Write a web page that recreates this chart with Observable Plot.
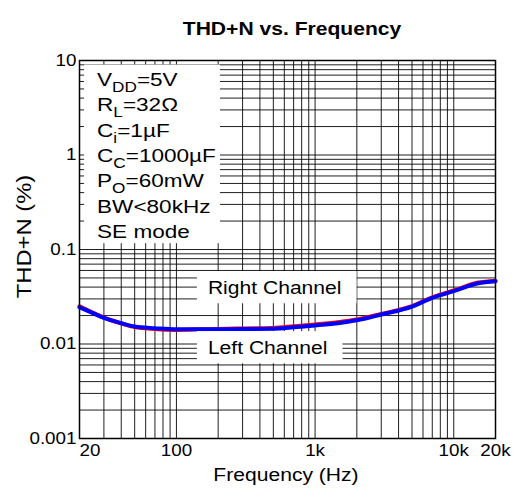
<!DOCTYPE html>
<html><head><meta charset="utf-8">
<script src="https://cdn.jsdelivr.net/npm/d3@7"></script>
<script src="https://cdn.jsdelivr.net/npm/@observablehq/plot@0.6"></script>
<style>
html,body{margin:0;padding:0;background:#fff;}
#chart svg{font-family:"Liberation Sans",Arial,Helvetica,sans-serif;background:#fff;}
</style></head><body><div id="chart"></div>
<script>
// ---- data ----
const freq = [20, 25, 30, 40, 50, 70, 100, 150, 200, 300, 500, 700, 1000, 1500, 2000, 3000, 5000, 7000, 10000, 15000, 20000];
const rightChannel = [0.0250, 0.0214, 0.0190, 0.0165, 0.0151, 0.0144, 0.0141, 0.0143, 0.0144, 0.0146, 0.0148, 0.0154, 0.0161, 0.0171, 0.0182, 0.0208, 0.0252, 0.0312, 0.0368, 0.0447, 0.0465];
const leftChannel  = [0.0245, 0.0212, 0.0189, 0.0166, 0.0153, 0.0147, 0.0143, 0.0143, 0.0143, 0.0144, 0.0145, 0.0150, 0.0157, 0.0167, 0.0178, 0.0205, 0.0249, 0.0308, 0.0362, 0.0440, 0.0462];

const xGrid = [20, 30, 40, 50, 60, 70, 80, 90, 100, 200, 300, 400, 500, 600, 700, 800, 900, 1000, 2000, 3000, 4000, 5000, 6000, 7000, 8000, 9000, 10000, 20000];
const yGrid = [0.001, 0.002, 0.003, 0.004, 0.005, 0.006, 0.007, 0.008, 0.009,
               0.01, 0.02, 0.03, 0.04, 0.05, 0.06, 0.07, 0.08, 0.09,
               0.1, 0.2, 0.3, 0.4, 0.5, 0.6, 0.7, 0.8, 0.9,
               1, 2, 3, 4, 5, 6, 7, 8, 9, 10];
const xTickValues = [20, 100, 1000, 10000, 20000];
const xTickLabels = ["20", "100", "1k", "10k", "20k"];
const yTickValues = [0.001, 0.01, 0.1, 1, 10];
const yTickLabels = ["0.001", "0.01", "0.1", "1", "10"];

const titleText = "THD+N vs. Frequency";
const xLabelText = "Frequency (Hz)";
const yLabelText = "THD+N (%)";
const conditions = ["V_{DD}=5V", "R_{L}=32Ω", "C_{i}=1µF", "C_{C}=1000µF", "P_{O}=60mW", "BW<80kHz", "SE mode"];
const channelNames = ["Right Channel", "Left Channel"];

// ---- build ----
const rows = [];
freq.forEach((f, i) => {
  rows.push({f, v: rightChannel[i], ch: "Right"});
  rows.push({f, v: leftChannel[i], ch: "Left"});
});
const xt = xTickValues.map((v, i) => ({v, label: xTickLabels[i]}));
const yt = yTickValues.map((v, i) => ({v, label: yTickLabels[i]}));

const FS = 16.5, LFS = 18.5, K = 1.14, KY = 1.19;

const chart = Plot.plot({
  width: 518, height: 493,
  marginLeft: 79, marginRight: 23, marginTop: 60, marginBottom: 55,
  x: {type: "log", domain: [20, 20000], axis: null},
  y: {type: "log", domain: [0.001, 10], axis: null},
  style: {fontFamily: '"Liberation Sans",Arial,sans-serif', background: "#fff", color: "#000"},
  marks: [
    Plot.ruleX(xGrid, {x: d => d, stroke: "#000", strokeWidth: 1, strokeOpacity: 0.88}),
    Plot.ruleY(yGrid, {y: d => d, stroke: "#000", strokeWidth: 1, strokeOpacity: 0.88}),
    Plot.line(rows.filter(d => d.ch === "Right"), {x: "f", y: "v", stroke: "#ff0000", strokeWidth: 4, curve: "monotone-x"}),
    Plot.line(rows.filter(d => d.ch === "Left"), {x: "f", y: "v", stroke: "#0000ff", strokeWidth: 4, curve: "monotone-x"}),
    Plot.frame({stroke: "#000", strokeWidth: 1.5}),
    // y tick labels
    Plot.text(yt, {y: "v", text: "label", frameAnchor: "left", dx: -3, textAnchor: "end", fontSize: FS, fill: "#000"}),
    // x tick labels
    Plot.text(xt.filter(d => d.v === 20), {x: "v", text: "label", frameAnchor: "bottom", dy: 17, textAnchor: "start", fontSize: FS, fill: "#000"}),
    Plot.text(xt.filter(d => d.v !== 20), {x: "v", text: "label", frameAnchor: "bottom", dy: 17, textAnchor: "middle", fontSize: FS, fill: "#000"}),
    // axis labels and title
    Plot.text([xLabelText], {text: d => d, frameAnchor: "bottom", dy: 42, dx: -1.5, textAnchor: "middle", fontSize: LFS, fill: "#000"}),
    Plot.text([yLabelText], {text: d => d, frameAnchor: "left", rotate: -90, dx: -55, dy: -13, textAnchor: "middle", fontSize: 20, fill: "#000", className: "ylab"}),
    Plot.text([titleText], {text: d => d, frameAnchor: "top", dy: -38.5, dx: 4.5, textAnchor: "middle", fontSize: LFS, fontWeight: "bold", fill: "#000"})
  ]
});
document.getElementById("chart").appendChild(chart);

// horizontal stretch of glyphs (about each text's anchor) to match the reference lettering
const svg = d3.select(chart);
svg.selectAll("text").each(function () {
  const k = this.closest(".ylab") ? KY : K;
  const x = +this.getAttribute("x") || 0, y = +this.getAttribute("y") || 0;
  const tr = this.getAttribute("transform") || "";
  this.setAttribute("transform", `${tr} translate(${x},${y}) scale(${k},1) translate(${-x},${-y})`);
});

// annotations (positioned through the chart's scales)
const xs = chart.scale("x"), ys = chart.scale("y");
const ann = svg.append("g")
  .attr("font-family", '"Liberation Sans",Arial,sans-serif')
  .attr("fill", "#000")
  .attr("text-anchor", "start");

function richLine(parent, str, x, y, fs) {
  const t = parent.append("text").attr("x", x).attr("y", y).attr("font-size", fs).attr("text-anchor", "start");
  const parts = str.split(/(_\{[^}]*\})/).filter(s => s.length);
  let shifted = false;
  parts.forEach(p => {
    if (p.startsWith("_{")) {
      t.append("tspan").attr("dy", 6).attr("font-size", fs * 0.76).text(p.slice(2, -1));
      shifted = true;
    } else {
      t.append("tspan").attr("dy", shifted ? -6 : 0).text(p);
      shifted = false;
    }
  });
  return t;
}

function block(lines, fx, fy, lineStep, pad, k) {
  const x0 = xs.apply(fx), yc = ys.apply(fy);
  const bg = ann.append("rect").attr("fill", "#fff");
  const g = ann.append("g");
  let maxW = 0;
  lines.forEach((s, i) => {
    const t = richLine(g, s, x0, yc + i * lineStep + 0.358 * LFS, LFS);
    maxW = Math.max(maxW, t.node().getComputedTextLength());
  });
  g.attr("transform", `translate(${x0},0) scale(${k},1) translate(${-x0},0)`);
  const top = yc - 0.358 * LFS;
  const bottom = yc + (lines.length - 1) * lineStep + 0.358 * LFS;
  bg.attr("x", x0 - pad[0]).attr("width", maxW * k + pad[0] + pad[1])
    .attr("y", top - pad[2]).attr("height", bottom - top + pad[2] + pad[3]);
}

block(conditions, 27, 6.27, 25.4, [13, 4, 8, 5], 1.22);
block([channelNames[0]], 170, 0.039, 0, [11, 15, 10, 9], K);
block([channelNames[1]], 170, 0.00903, 0, [11, 15, 10, 9], K);
</script></body></html>
